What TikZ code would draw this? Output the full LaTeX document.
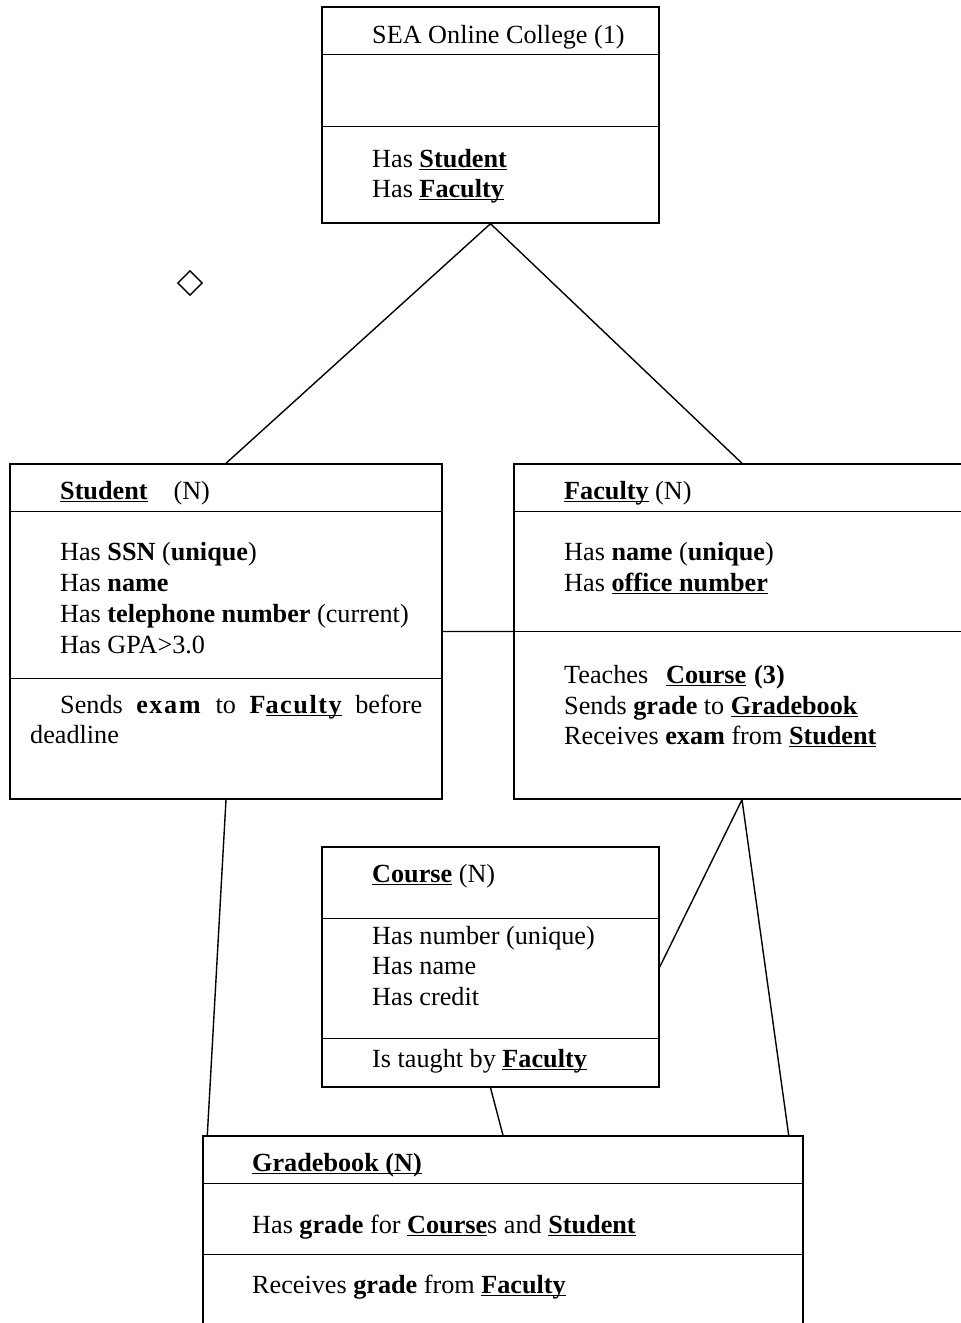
\documentclass[tikz,border=0pt]{standalone}
\usepackage{fontspec}
\setmainfont{Liberation Serif}
\usetikzlibrary{shapes.geometric}
\newcommand{\uln}[1]{\setbox0\hbox{#1}\rlap{\rule[-3pt]{\wd0}{1.4pt}}\box0}
\newcommand{\ubf}[1]{\textbf{\uln{#1}}}
\newcommand{\spaced}[1]{{\addfontfeature{LetterSpace=6}#1}}
\tikzset{
  umlbox/.style={draw, line width=1.4pt, inner sep=0pt},
  conn/.style={line width=1.4pt},
  txt/.style={anchor=base west, inner sep=0pt, font=\fontsize{26.2pt}{30.7pt}\selectfont},
}
\begin{document}
\begin{tikzpicture}[x=1pt, y=-1pt]
\useasboundingbox (0,0) rectangle (961,1323);
\clip (0,0) rectangle (961,1323);
% class boxes
\node[umlbox, minimum width=337pt, minimum height=216pt] (college) at (490.5,115) {};
\node[umlbox, minimum width=432pt, minimum height=335pt] (student) at (226,631.5) {};
\node[umlbox, minimum width=456pt, minimum height=335pt] (faculty) at (742,631.5) {};
\node[umlbox, minimum width=337pt, minimum height=240pt] (course) at (490.5,967) {};
\node[umlbox, minimum width=600pt, minimum height=210pt] (grade) at (503,1241) {};
% compartments
\draw[conn] ([yshift=-48pt]college.north west) -- ([yshift=-48pt]college.north east)
            ([yshift=-120pt]college.north west) -- ([yshift=-120pt]college.north east);
\draw[conn] ([yshift=-48pt]student.north west) -- ([yshift=-48pt]student.north east)
            ([yshift=-215pt]student.north west) -- ([yshift=-215pt]student.north east);
\draw[conn] ([yshift=-48pt]faculty.north west) -- ([yshift=-48pt]faculty.north east)
            (faculty.west) -- (faculty.east);
\draw[conn] ([yshift=-72pt]course.north west) -- ([yshift=-72pt]course.north east)
            ([yshift=-192pt]course.north west) -- ([yshift=-192pt]course.north east);
\draw[conn] ([yshift=-48pt]grade.north west) -- ([yshift=-48pt]grade.north east)
            ([yshift=-119pt]grade.north west) -- ([yshift=-119pt]grade.north east);
% texts
\node[txt] (collegename) at (372,43) {SEA Online College (1)};
\node[txt] (collegeop1) at (372,167) {Has \ubf{Student}};
\node[txt] (collegeop2) at (372,197) {Has \ubf{Faculty}};
\node[txt] (studentname) at (60,499) {\ubf{Student}\hspace{26pt}(N)};
\node[txt] (studentat1) at (60,560) {Has \textbf{SSN} (\textbf{unique})};
\node[txt] (studentat2) at (60,591) {Has \textbf{name}};
\node[txt] (studentat3) at (60,622) {Has \textbf{telephone number} (current)};
\node[txt] (studentat4) at (60,653) {Has GPA>3.0};
\node[txt] (studentop1) at (60,713) {\makebox[362pt][s]{Sends \textbf{\spaced{exam}} to \textbf{\spaced{F\uln{aculty}}} before}};
\node[txt] (studentop2) at (30,743) {deadline};
\node[txt] (facultyname) at (564,499) {\ubf{Faculty} (N)};
\node[txt] (facultyat1) at (564,560) {Has \textbf{name} (\textbf{unique})};
\node[txt] (facultyat2) at (564,591) {Has \ubf{office number}};
\node[txt] (facultyop1) at (564,683) {Teaches\hspace{18pt}\ubf{Course}\hspace{8pt}\textbf{(3)}};
\node[txt] (facultyop2) at (564,714) {Sends \textbf{grade} to \ubf{Gradebook}};
\node[txt] (facultyop3) at (564,744) {Receives \textbf{exam} from \ubf{Student}};
\node[txt] (coursename) at (372,882) {\ubf{Course} (N)};
\node[txt] (courseat1) at (372,944) {Has number (unique)};
\node[txt] (courseat2) at (372,974) {Has name};
\node[txt] (courseat3) at (372,1005) {Has credit};
\node[txt] (courseop1) at (372,1067) {Is taught by \ubf{Faculty}};
\node[txt] (gradename) at (252,1171) {\ubf{Gradebook (N)}};
\node[txt] (gradeat1) at (252,1233) {Has \textbf{grade} for \ubf{Course}s and \ubf{Student}};
\node[txt] (gradeop1) at (252,1293) {Receives \textbf{grade} from \ubf{Faculty}};
% loose diamond
\node[draw, diamond, line width=1.4pt, inner sep=0pt, minimum size=25pt] (agg) at (190,283) {};
% associations
\coordinate (gradeleft) at ([xshift=5pt]grade.north west);
\coordinate (graderight) at ([xshift=-15pt]grade.north east);
\draw[conn] (college.south) -- (student.north)
            (college.south) -- (faculty.north)
            (student.east) -- (faculty.west)
            (student.south) -- (gradeleft)
            (faculty.south) -- (course.east)
            (faculty.south) -- (graderight)
            (course.south) -- (grade.north);
\end{tikzpicture}
\end{document}
